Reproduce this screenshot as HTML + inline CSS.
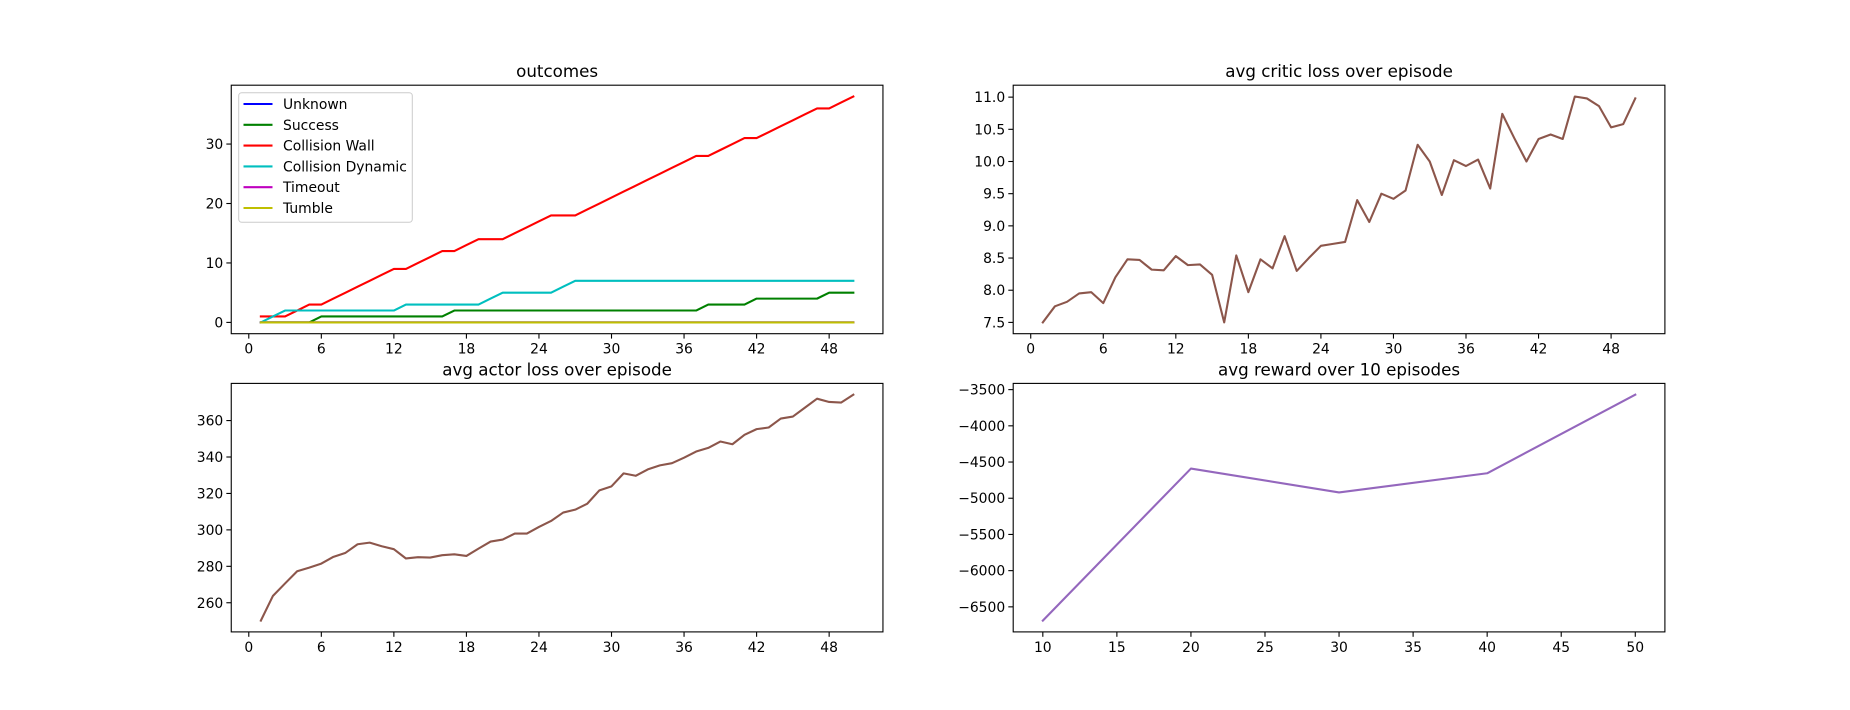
<!DOCTYPE html>
<html><head><meta charset="utf-8"><style>
html,body{margin:0;padding:0;background:#fff}
svg{display:block;font-family:"DejaVu Sans","Liberation Sans",sans-serif}
</style></head><body>
<svg id="fig" width="1850" height="710" viewBox="0 0 1850 710" xmlns="http://www.w3.org/2000/svg"></svg>
<script>
const episodes = Array.from({length:50},(_,i)=>i+1);
const unknownVals = Array(50).fill(0);
const successVals = [0,0,0,0,0,1,1,1,1,1,1,1,1,1,1,1,2,2,2,2,2,2,2,2,2,2,2,2,2,2,2,2,2,2,2,2,2,3,3,3,3,4,4,4,4,4,4,5,5,5];
const wallVals = [1,1,1,2,3,3,4,5,6,7,8,9,9,10,11,12,12,13,14,14,14,15,16,17,18,18,18,19,20,21,22,23,24,25,26,27,28,28,29,30,31,31,32,33,34,35,36,36,37,38];
const dynamicVals = [0,1,2,2,2,2,2,2,2,2,2,2,3,3,3,3,3,3,3,4,5,5,5,5,5,6,7,7,7,7,7,7,7,7,7,7,7,7,7,7,7,7,7,7,7,7,7,7,7,7];
const timeoutVals = Array(50).fill(0);
const tumbleVals = Array(50).fill(0);
const criticVals = [7.5,7.75,7.82,7.95,7.97,7.8,8.2,8.48,8.47,8.32,8.31,8.53,8.39,8.4,8.24,7.5,8.54,7.97,8.48,8.34,8.84,8.3,8.5,8.69,8.72,8.75,9.4,9.06,9.5,9.42,9.55,10.26,10.0,9.48,10.02,9.93,10.03,9.58,10.74,10.36,10.0,10.35,10.42,10.35,11.01,10.98,10.86,10.53,10.58,10.98];
const actorVals = [250.2,263.8,270.6,277.3,279.3,281.5,285.2,287.4,292.1,293,291,289.4,284.3,285,284.8,286.1,286.6,285.7,289.7,293.6,294.7,298,298,301.6,304.9,309.5,311.1,314.4,321.7,323.9,331,329.7,333.2,335.4,336.6,339.6,343,345,348.5,347,352.2,355.3,356.2,361.1,362.2,367.1,372,370.2,369.9,374.2];
const rewardX = [10,20,30,40,50];
const rewardVals = [-6690,-4590,-4920,-4655,-3570];
const epTicks = [0,6,12,18,24,30,36,42,48];
const outcomeYTicks = [0,10,20,30];
const criticYTicks = [7.5,8.0,8.5,9.0,9.5,10.0,10.5,11.0];
const actorYTicks = [260,280,300,320,340,360];
const rewardXTicks = [10,15,20,25,30,35,40,45,50];
const rewardYTicks = [-6500,-6000,-5500,-5000,-4500,-4000,-3500];

const NS="http://www.w3.org/2000/svg";
const svg=document.getElementById('fig');
function mk(tag,attrs,parent){const e=document.createElementNS(NS,tag);for(const k in attrs)e.setAttribute(k,attrs[k]);(parent||svg).appendChild(e);return e;}
function ext(arr){let a=Math.min(...arr),b=Math.max(...arr),m=(b-a)*0.05||0.5;return [a-m,b+m];}
function fmt(v,d){return (v<0?'\u2212':'')+Math.abs(v).toFixed(d);}

function makeAxes(name,x0,y0,w,h,xs,ys,title,xt,yt,yd){
  const g=mk('g',{});
  
  
  const sx=v=>x0+(v-xs[0])/(xs[1]-xs[0])*w;
  const sy=v=>y0+h-(v-ys[0])/(ys[1]-ys[0])*h;
  const t=mk('text',{x:x0+w/2,y:y0-8,'text-anchor':'middle','font-size':'16.7px',fill:'#000'},g);
  t.textContent=title;
  
  
  xt.forEach(v=>{const x=sx(v);mk('line',{x1:x,x2:x,y1:y0+h,y2:y0+h+4.9,stroke:'#000','stroke-width':1.1},g);
    const l=mk('text',{x:x,y:y0+h+20,'text-anchor':'middle','font-size':'13.9px'},g);l.textContent=fmt(v,0);
    
    });
  yt.forEach(v=>{const y=sy(v);mk('line',{x1:x0-4.9,x2:x0,y1:y,y2:y,stroke:'#000','stroke-width':1.1},g);
    const l=mk('text',{x:x0-8,y:y+5,'text-anchor':'end','font-size':'13.9px'},g);l.textContent=fmt(v,yd);
    
    });
  return {g,sx,sy,x0,y0,w,h};
}
function series(ax,xs,ys,color,name){
  const p=mk('polyline',{points:xs.map((x,i)=>ax.sx(x).toFixed(2)+','+ax.sy(ys[i]).toFixed(2)).join(' '),fill:'none',stroke:color,'stroke-width':2.1,'stroke-linejoin':'round','stroke-linecap':'square'},ax.g);
  
  
}
function frame(ax){mk('rect',{x:ax.x0,y:ax.y0,width:ax.w,height:ax.h,fill:'none',stroke:'#000','stroke-width':1.1},ax.g);}

const L1=231.25,L2=1013.2,W=651.7,T1=85.2,T2=383.4,H=248.5;
const exX=[1-2.45,50+2.45];
// outcomes
const a1=makeAxes('outcomes-chart',L1,T1,W,H,exX,ext(wallVals.concat([0])),'outcomes',epTicks,outcomeYTicks,0);
series(a1,episodes,unknownVals,'#0000ff','line-unknown');
series(a1,episodes,successVals,'#008000','line-success');
series(a1,episodes,wallVals,'#ff0000','line-collision-wall');
series(a1,episodes,dynamicVals,'#00bfbf','line-collision-dynamic');
series(a1,episodes,timeoutVals,'#bf00bf','line-timeout');
series(a1,episodes,tumbleVals,'#bfbf00','line-tumble');
frame(a1);
// legend
const lg=mk('g',{});


mk('rect',{x:238.7,y:92.7,width:173.6,height:129.6,rx:3,fill:'#fff','fill-opacity':0.8,stroke:'#ccc','stroke-width':1},lg);
const legNames=['Unknown','Success','Collision Wall','Collision Dynamic','Timeout','Tumble'];
const legCols=['#0000ff','#008000','#ff0000','#00bfbf','#bf00bf','#bfbf00'];
legNames.forEach((n,i)=>{const y=104+i*20.8;
  const e=mk('g',{},lg);
  
  
  mk('line',{x1:243.5,x2:272.5,y1:y,y2:y,stroke:legCols[i],'stroke-width':2.1},e);
  const t=mk('text',{x:283,y:y+5,'font-size':'13.9px'},e);t.textContent=n;});
// critic
const a2=makeAxes('critic-loss-chart',L2,T1,W,H,exX,ext(criticVals),'avg critic loss over episode',epTicks,criticYTicks,1);
series(a2,episodes,criticVals,'#8c564b','line-critic-loss');frame(a2);
// actor
const a3=makeAxes('actor-loss-chart',L1,T2,W,H,exX,ext(actorVals),'avg actor loss over episode',epTicks,actorYTicks,0);
series(a3,episodes,actorVals,'#8c564b','line-actor-loss');frame(a3);
// reward
const a4=makeAxes('reward-chart',L2,T2,W,H,[10-2,50+2],ext(rewardVals),'avg reward over 10 episodes',rewardXTicks,rewardYTicks,0);
series(a4,rewardX,rewardVals,'#9467bd','line-avg-reward');frame(a4);
</script>
</body></html>
